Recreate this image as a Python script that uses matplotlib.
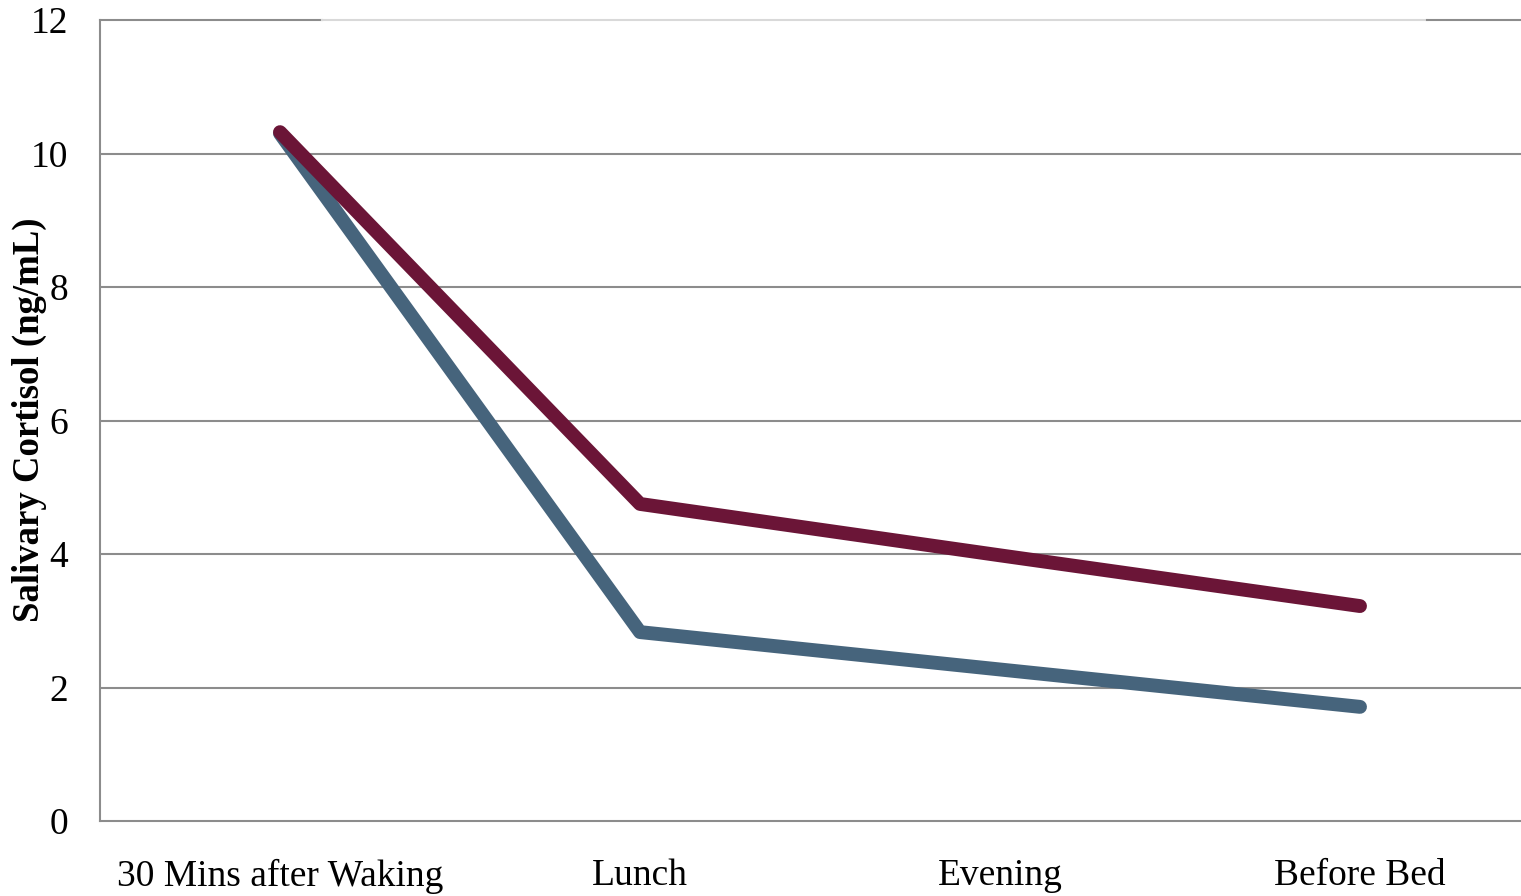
import matplotlib
matplotlib.use("Agg")
import matplotlib.pyplot as plt

# Salivary cortisol across the day for two groups
time_points = ["30 Mins after Waking", "Lunch", "Evening", "Before Bed"]
group_blue = [10.30, 2.83, 2.27, 1.71]
group_red = [10.32, 4.75, 3.98, 3.22]
y_ticks = [0, 2, 4, 6, 8, 10, 12]

BLUE = "#46647C"
RED = "#6B1537"
GRID = "#8C8C8C"

plt.rcParams["font.family"] = ["Liberation Serif", "DejaVu Serif"]

W, H = 1521, 896
fig = plt.figure(figsize=(W / 100, H / 100), dpi=100)
ax = fig.add_axes([100 / W, (H - 821) / H, (W - 100) / W, 801 / H])
span = W - 100

x = list(range(len(time_points)))
ax.plot(x, group_blue, color=BLUE, lw=10, solid_capstyle="round",
        solid_joinstyle="round", zorder=3)
ax.plot(x, group_red, color=RED, lw=10, solid_capstyle="round",
        solid_joinstyle="round", zorder=4)

ax.set_xlim(-0.5, -0.5 + span / 360)
ax.set_ylim(0, 12)

# horizontal gridlines
for yv in y_ticks[1:-1]:
    ax.axhline(yv, color=GRID, lw=1.5, zorder=1)
# top line: dark ends with a lighter middle stretch
ax.axhline(12, xmin=0, xmax=(322 - 100) / span, color=GRID, lw=1.5, clip_on=False)
ax.axhline(12, xmin=(322 - 100) / span, xmax=(1427 - 100) / span,
           color="#D9D9D9", lw=1.5, clip_on=False)
ax.axhline(12, xmin=(1427 - 100) / span, xmax=1, color=GRID, lw=1.5, clip_on=False)

for side in ("top", "right"):
    ax.spines[side].set_visible(False)
for side in ("left", "bottom"):
    ax.spines[side].set_color(GRID)
    ax.spines[side].set_linewidth(1.5)

ax.set_xticks(x)
ax.set_xticklabels(time_points, fontsize=27)
ax.set_yticks(y_ticks)
ax.set_yticklabels([str(v) for v in y_ticks], fontsize=27)
ax.tick_params(axis="both", length=0)
ax.tick_params(axis="y", pad=23)
ax.tick_params(axis="x", pad=27)

ax.set_ylabel("Salivary Cortisol (ng/mL)", fontsize=26.5, fontweight="bold")
ax.yaxis.set_label_coords((47 - 100) / span, 1 - (420 - 20) / 801)

fig.savefig("out.png", dpi=100, facecolor="white")
